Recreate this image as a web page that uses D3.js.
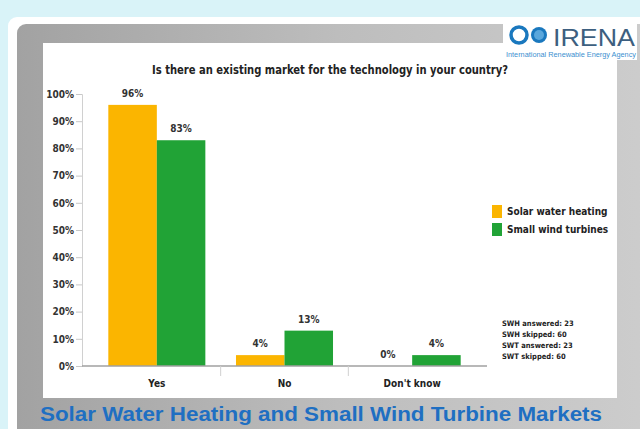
<!DOCTYPE html>
<html>
<head>
<meta charset="utf-8">
<script src="https://cdn.jsdelivr.net/npm/d3@7"></script>
<style>
  html, body { margin: 0; padding: 0; background: #d9f3f8; }
  svg { display: block; }
  text { font-family: "DejaVu Sans Condensed", "DejaVu Sans", sans-serif; }
</style>
</head>
<body>
<svg id="slide"></svg>
<script>
const categories = ["Yes", "No", "Don't know"];
const seriesNames = ["Solar water heating", "Small wind turbines"];
const swhValues = [0.96, 0.04, 0.00];
const swtValues = [0.83, 0.13, 0.04];
const yTicks = [0, 0.1, 0.2, 0.3, 0.4, 0.5, 0.6, 0.7, 0.8, 0.9, 1.0];
const notes = ["SWH answered: 23", "SWH skipped: 60", "SWT answered: 23", "SWT skipped: 60"];
const colors = ["#fbb500", "#21a336"];

const width = 640, height = 429;
const svg = d3.select("#slide").attr("width", width).attr("height", height);

// slide frame
const defs = svg.append("defs");
const grad = defs.append("linearGradient").attr("id", "grayGrad").attr("x1", "0").attr("x2", "1").attr("y1", "0").attr("y2", "0");
grad.append("stop").attr("offset", "0").attr("stop-color", "#a2a2a2");
grad.append("stop").attr("offset", "0.5").attr("stop-color", "#bdbdbd");
grad.append("stop").attr("offset", "1").attr("stop-color", "#cdcdcd");

svg.append("rect").attr("x", 8).attr("y", 17).attr("width", 650).attr("height", 430).attr("rx", 9).attr("fill", "#fff");
svg.append("rect").attr("x", 17).attr("y", 24).attr("width", 640).attr("height", 420).attr("rx", 9).attr("fill", "url(#grayGrad)");
svg.append("rect").attr("x", 43).attr("y", 43).attr("width", 574).attr("height", 355).attr("fill", "#fff");

const margin = {top: 94, left: 82, bottom: 366, right: 487};

const y = d3.scaleLinear().domain([0, 1]).range([margin.bottom, margin.top]);
const x0 = d3.scaleBand().domain(categories).range([93, 476]).paddingInner(0.24).paddingOuter(0.12);
const x1 = d3.scaleBand().domain(seriesNames).range([0, x0.bandwidth()]);

const data = categories.map((c, i) => ({cat: c, values: [swhValues[i], swtValues[i]]}));

const chart = svg.append("g");

// y axis
const yAxis = chart.append("g")
    .attr("transform", `translate(${margin.left},0)`)
    .call(d3.axisLeft(y).tickValues(yTicks).tickFormat(d3.format(".0%")).tickSize(6).tickPadding(2));
yAxis.select(".domain").attr("stroke", "#d0d0d0");
yAxis.selectAll(".tick line").attr("stroke", "#c8c8c8");
yAxis.selectAll(".tick text")
    .attr("fill", "#333")
    .style("font-size", "10px")
    .style("font-weight", "bold");

// bars
const groups = chart.selectAll("g.cat")
    .data(data)
    .join("g")
    .attr("class", "cat")
    .attr("transform", d => `translate(${x0(d.cat)},0)`);

groups.selectAll("rect")
    .data(d => d.values.map((v, i) => ({key: seriesNames[i], value: v, i: i})))
    .join("rect")
    .attr("x", d => x1(d.key))
    .attr("y", d => y(d.value))
    .attr("width", x1.bandwidth())
    .attr("height", d => y(0) - y(d.value))
    .attr("fill", d => colors[d.i]);

groups.selectAll("text.val")
    .data(d => d.values.map((v, i) => ({key: seriesNames[i], value: v})))
    .join("text")
    .attr("class", "val")
    .attr("x", d => x1(d.key) + x1.bandwidth() / 2)
    .attr("y", d => y(d.value) - 8)
    .attr("text-anchor", "middle")
    .attr("fill", "#333")
    .style("font-size", "10px")
    .style("font-weight", "bold")
    .text(d => d3.format(".0%")(d.value));

// x baseline and category separators
chart.append("line")
    .attr("x1", margin.left).attr("x2", margin.right)
    .attr("y1", y(0)).attr("y2", y(0))
    .attr("stroke", "#a0a0a0").attr("stroke-width", 1.5);
const step = x0.step();
chart.selectAll("line.sep")
    .data(categories.slice(1))
    .join("line")
    .attr("class", "sep")
    .attr("x1", d => x0(d) - (step - x0.bandwidth()) / 2)
    .attr("x2", d => x0(d) - (step - x0.bandwidth()) / 2)
    .attr("y1", y(0)).attr("y2", y(0) + 10)
    .attr("stroke", "#d0d0d0");

chart.selectAll("text.cat")
    .data(categories)
    .join("text")
    .attr("class", "cat")
    .attr("x", d => x0(d) + x0.bandwidth() / 2)
    .attr("y", 387)
    .attr("text-anchor", "middle")
    .attr("fill", "#222")
    .style("font-size", "10px")
    .style("font-weight", "bold")
    .text(d => d);

// title
svg.append("text")
    .attr("x", 330).attr("y", 74)
    .attr("text-anchor", "middle")
    .attr("fill", "#222")
    .attr("textLength", 356).attr("lengthAdjust", "spacingAndGlyphs")
    .style("font-size", "12.5px")
    .style("font-weight", "bold")
    .text("Is there an existing market for the technology in your country?");

// legend
const legend = svg.append("g").attr("transform", "translate(492,205)");
seriesNames.forEach((s, i) => {
    legend.append("rect").attr("x", 0).attr("y", i * 18).attr("width", 10).attr("height", 13).attr("fill", colors[i]);
    legend.append("text").attr("x", 15).attr("y", i * 18 + 10)
        .attr("fill", "#222")
        .style("font-size", "10px").style("font-weight", "bold")
        .text(s);
});

// response notes
svg.selectAll("text.note")
    .data(notes)
    .join("text")
    .attr("class", "note")
    .attr("x", 502)
    .attr("y", (d, i) => 326 + i * 11)
    .attr("fill", "#222")
    .style("font-size", "7.5px")
    .style("font-weight", "bold")
    .text(d => d);

// slide subtitle
svg.append("text")
    .attr("x", 321).attr("y", 421)
    .attr("text-anchor", "middle")
    .attr("fill", "#1f6fc2")
    .attr("textLength", 562).attr("lengthAdjust", "spacingAndGlyphs")
    .style("font-family", "'Liberation Sans', Arial, sans-serif")
    .style("font-size", "20px")
    .style("font-weight", "bold")
    .text("Solar Water Heating and Small Wind Turbine Markets");

// IRENA logo
const logo = svg.append("g");
logo.append("rect").attr("x", 503).attr("y", 23).attr("width", 134).attr("height", 37).attr("fill", "#fff");
logo.append("circle").attr("cx", 519).attr("cy", 35).attr("r", 8).attr("fill", "none").attr("stroke", "#1a78be").attr("stroke-width", 3.5);
logo.append("circle").attr("cx", 539).attr("cy", 35).attr("r", 8).attr("fill", "#1a78be");
logo.append("circle").attr("cx", 539).attr("cy", 35).attr("r", 5).attr("fill", "#5aa7dc");
logo.append("text").attr("x", 553).attr("y", 46)
    .attr("fill", "#3d5f80")
    .attr("textLength", 82).attr("lengthAdjust", "spacingAndGlyphs")
    .style("font-family", "'Liberation Sans', Arial, sans-serif")
    .style("font-size", "23px")
    .text("IRENA");
logo.append("text").attr("x", 506).attr("y", 57)
    .attr("fill", "#3b8fd0")
    .attr("textLength", 130).attr("lengthAdjust", "spacingAndGlyphs")
    .style("font-family", "'Liberation Sans', Arial, sans-serif")
    .style("font-size", "6.5px")
    .text("International Renewable Energy Agency");
</script>
</body>
</html>
